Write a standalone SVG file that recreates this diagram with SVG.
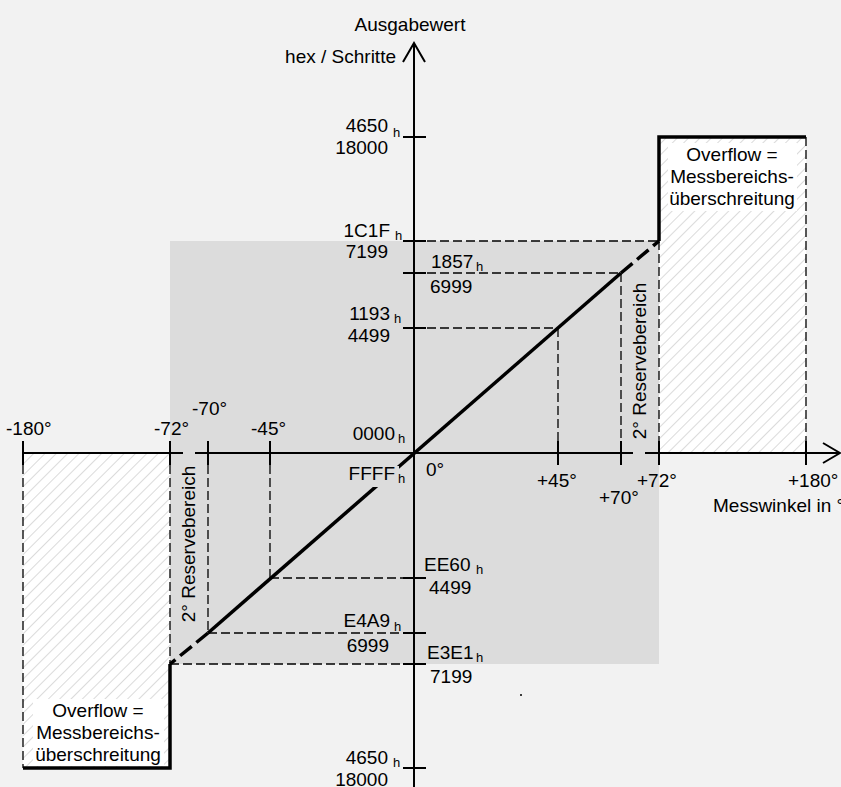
<svg xmlns="http://www.w3.org/2000/svg" width="841" height="787" viewBox="0 0 841 787">
<defs>
<pattern id="hatch" patternUnits="userSpaceOnUse" width="8" height="8" patternTransform="rotate(45)">
<rect width="8" height="8" fill="#ffffff"/>
<line x1="0" y1="0" x2="0" y2="8" stroke="#c4c4c4" stroke-width="1.2"/>
</pattern>
<style>
text{font-family:"Liberation Sans",Arial,sans-serif;font-size:19px;fill:#000}
.sub{font-size:13px}
.end{text-anchor:end}
.mid{text-anchor:middle}
.axis{stroke:#000;stroke-width:2;fill:none}
.tick{stroke:#000;stroke-width:2}
.dash{stroke:#000;stroke-width:1.3;stroke-dasharray:9 4;fill:none}
.thick{stroke:#000;stroke-width:3.5;fill:none;stroke-linejoin:miter}
.thickdash{stroke:#000;stroke-width:3.5;fill:none;stroke-dasharray:15 6}
</style>
</defs>
<rect x="0" y="0" width="841" height="787" fill="#f2f2f2"/>
<g id="range">
<rect x="170" y="241" width="489" height="423" fill="#dcdcdc"/>
</g>
<g id="overflow-right">
<rect x="659" y="137" width="147" height="316" fill="url(#hatch)"/>
<rect x="668" y="143" width="129" height="68" fill="#ffffff"/>
<text class="mid" x="732" y="161">Overflow =</text>
<text class="mid" x="732" y="183">Messbereichs-</text>
<text class="mid" x="732" y="205">überschreitung</text>
</g>
<g id="overflow-left">
<rect x="23" y="453" width="147" height="315" fill="url(#hatch)"/>
<rect x="33" y="699" width="131" height="67" fill="#ffffff"/>
<text class="mid" x="98" y="717">Overflow =</text>
<text class="mid" x="98" y="739">Messbereichs-</text>
<text class="mid" x="98" y="761">überschreitung</text>
</g>
<g id="reserve-right">
<text class="mid" transform="translate(646,361) rotate(-90)">2° Reservebereich</text>
</g>
<g id="reserve-left">
<text class="mid" transform="translate(195,544) rotate(-90)">2° Reservebereich</text>
</g>
<g id="connectors">
<path class="dash" d="M427,241H659 M427,273H621 M427,328H558 M621,273V441 M558,328V441 M659,241V441 M806,137V441"/>
<path class="dash" d="M23,465V768 M170,465V664 M208,465V633 M270,465V578 M270,578H403 M208,633H403 M170,664H403"/>
<path class="axis" d="M414,43V787 M403,62L414,43L425,62"/>
<path class="axis" d="M23,453H183 M195,453H633 M645,453H840 M823,443L840,453L823,463"/>
<path class="tick" d="M403,137H426 M403,241H426 M403,273H426 M403,328H426 M403,578H426 M403,633H426 M403,664H426 M403,768H426"/>
<path class="tick" d="M23,441V465 M170,441V465 M208,441V465 M270,441V465 M558,441V465 M621,441V465 M659,441V465 M806,441V465"/>
<path class="thick" d="M806,137H659V241"/>
<path class="thick" d="M23,768H170V664"/>
<path class="thick" d="M208,633L621,273"/>
<path class="thickdash" d="M621,273L659,241"/>
<path class="thickdash" d="M208,633L170,664"/>
<circle cx="521" cy="695" r="1" fill="#000"/>
</g>
<g id="labels">
<text class="mid" x="410" y="31">Ausgabewert</text>
<text class="end" x="396" y="63">hex / Schritte</text>
<text class="end" x="388" y="132">4650</text><text class="sub" x="393" y="137">h</text>
<text class="end" x="388" y="154">18000</text>
<text class="end" x="390" y="237">1C1F</text><text class="sub" x="395" y="240">h</text>
<text class="end" x="388" y="258">7199</text>
<text x="431" y="268">1857</text><text class="sub" x="476" y="271">h</text>
<text x="430" y="293">6999</text>
<text class="end" x="390" y="320">1193</text><text class="sub" x="394" y="323">h</text>
<text class="end" x="390" y="342">4499</text>
<text class="end" x="395" y="440">0000</text><text class="sub" x="398" y="443">h</text>
<rect x="349" y="466" width="50" height="21" fill="#dcdcdc"/>
<text class="end" x="395" y="480">FFFF</text><text class="sub" x="398" y="483">h</text>
<text x="426" y="476">0°</text>
<text x="424" y="571">EE60</text><text class="sub" x="476" y="574">h</text>
<text x="429" y="594">4499</text>
<text class="end" x="390" y="627">E4A9</text><text class="sub" x="394" y="631">h</text>
<text class="end" x="389" y="652">6999</text>
<text x="427" y="659">E3E1</text><text class="sub" x="476" y="662">h</text>
<text x="430" y="683">7199</text>
<text class="end" x="388" y="764">4650</text><text class="sub" x="393" y="767">h</text>
<text class="end" x="388" y="786">18000</text>
<text x="6" y="435">-180°</text>
<text x="154" y="435">-72°</text>
<text x="192" y="415">-70°</text>
<text x="251" y="435">-45°</text>
<text x="537" y="487">+45°</text>
<text x="599" y="504">+70°</text>
<text x="637" y="487">+72°</text>
<text x="788" y="487">+180°</text>
<text x="713" y="512">Messwinkel in °</text>
</g>
</svg>
